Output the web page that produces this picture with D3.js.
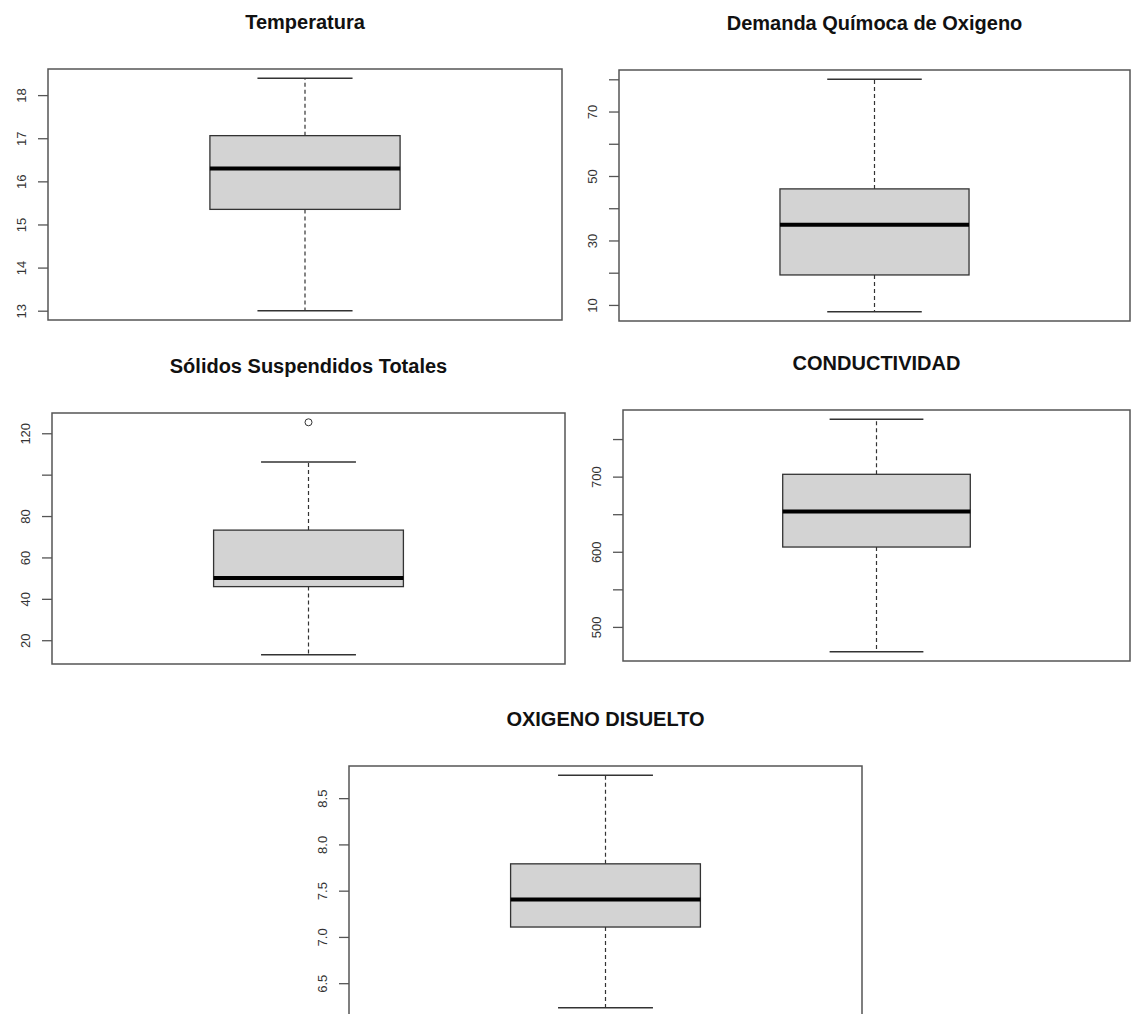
<!DOCTYPE html>
<html>
<head>
<meta charset="utf-8">
<script src="https://cdn.jsdelivr.net/npm/d3@7"></script>
<style>
  body { margin: 0; background: #fff; }
  svg { display: block; font-family: "Liberation Sans", Arial, sans-serif; }
</style>
</head>
<body>
<svg id="chart"></svg>
<script>
// values
var panelTitles = ["Temperatura", "Demanda Químoca de Oxigeno", "Sólidos Suspendidos Totales", "CONDUCTIVIDAD", "OXIGENO DISUELTO"];
var lowWhisker    = [13.0, 7.9, 13.0, 467, 6.235];
var lowerQuartile = [15.35, 19.3, 45.9, 606.3, 7.107];
var medianValues  = [16.30, 34.9, 50.1, 653.6, 7.405];
var upperQuartile = [17.06, 46.0, 73.2, 703.1, 7.79];
var highWhisker   = [18.39, 80.0, 106.1, 776.3, 8.747];
var outlierValues = [[], [], [125.3], [], []];
var tickValues = [
    [13, 14, 15, 16, 17, 18],
    [10, 20, 30, 40, 50, 60, 70, 80],
    [20, 40, 60, 80, 100, 120],
    [500, 550, 600, 650, 700, 750],
    [6.5, 7.0, 7.5, 8.0, 8.5]
];
var tickLabels = [
    ["13", "14", "15", "16", "17", "18"],
    ["10", "", "30", "", "50", "", "70", ""],
    ["20", "40", "60", "80", "", "120"],
    ["500", "", "600", "", "700", ""],
    ["6.5", "7.0", "7.5", "8.0", "8.5"]
];

var svgWidth = 1132;
var svgHeight = 1014;
var svg = d3.select('svg#chart')
    .attr("width", svgWidth)
    .attr("height", svgHeight);

// plot frames (left, right, top, bottom)
var frames = [
    [48, 562, 69, 320],
    [619, 1130, 70, 321],
    [52, 565, 413, 664],
    [623, 1130, 410, 661],
    [349, 862, 766, 1017]
];

function DrawBoxPlot(i) {
    var f = frames[i];
    var lo = lowWhisker[i], hi = highWhisker[i];
    outlierValues[i].forEach(function (v) { lo = Math.min(lo, v); hi = Math.max(hi, v); });
    var pad = (hi - lo) * 0.04;

    var y = d3.scaleLinear().domain([lo - pad, hi + pad]).range([f[3], f[2]]);
    var x = d3.scaleLinear().domain([0.5, 1.5]).range([f[0], f[1]]);
    var boxHalf = 0.185, capHalf = 0.0925;

    var g = svg.append('g').attr('class', 'panel');

    // title
    g.append('text')
        .attr('x', (f[0] + f[1]) / 2)
        .attr('y', f[2] - 40)
        .attr('text-anchor', 'middle')
        .attr('font-size', 20)
        .attr('font-weight', 'bold')
        .attr('fill', '#111')
        .text(panelTitles[i]);

    // whiskers (dashed)
    g.append('line')
        .attr('x1', x(1)).attr('x2', x(1))
        .attr('y1', y(upperQuartile[i])).attr('y2', y(highWhisker[i]))
        .attr('stroke', '#333').attr('stroke-width', 1.2).attr('stroke-dasharray', '4,3');
    g.append('line')
        .attr('x1', x(1)).attr('x2', x(1))
        .attr('y1', y(lowerQuartile[i])).attr('y2', y(lowWhisker[i]))
        .attr('stroke', '#333').attr('stroke-width', 1.2).attr('stroke-dasharray', '4,3');

    // staples
    [lowWhisker[i], highWhisker[i]].forEach(function (v) {
        g.append('line')
            .attr('x1', x(1 - capHalf)).attr('x2', x(1 + capHalf))
            .attr('y1', y(v)).attr('y2', y(v))
            .attr('stroke', '#333').attr('stroke-width', 1.4);
    });

    // box
    g.append('rect')
        .attr('x', x(1 - boxHalf))
        .attr('width', x(1 + boxHalf) - x(1 - boxHalf))
        .attr('y', y(upperQuartile[i]))
        .attr('height', y(lowerQuartile[i]) - y(upperQuartile[i]))
        .attr('fill', '#d3d3d3')
        .attr('stroke', '#333').attr('stroke-width', 1.3);

    // median
    g.append('line')
        .attr('x1', x(1 - boxHalf)).attr('x2', x(1 + boxHalf))
        .attr('y1', y(medianValues[i])).attr('y2', y(medianValues[i]))
        .attr('stroke', '#000').attr('stroke-width', 4);

    // outliers
    g.selectAll('circle.out')
        .data(outlierValues[i])
        .enter()
        .append('circle')
        .attr('class', 'out')
        .attr('cx', x(1))
        .attr('cy', function (d) { return y(d); })
        .attr('r', 3.5)
        .attr('fill', 'none')
        .attr('stroke', '#333').attr('stroke-width', 1);

    // frame
    g.append('rect')
        .attr('x', f[0]).attr('y', f[2])
        .attr('width', f[1] - f[0]).attr('height', f[3] - f[2])
        .attr('fill', 'none')
        .attr('stroke', '#555').attr('stroke-width', 1.5);

    // y axis
    var labels = tickLabels[i];
    var axis = g.append('g')
        .attr('transform', 'translate(' + f[0] + ',0)')
        .call(d3.axisLeft(y)
            .tickValues(tickValues[i])
            .tickSize(10)
            .tickFormat(function (d, k) { return labels[k]; }));
    axis.select('.domain').remove();
    axis.selectAll('.tick line').attr('stroke', '#555').attr('stroke-width', 1.3);
    axis.selectAll('.tick text')
        .attr('transform', 'rotate(-90)')
        .attr('x', 0)
        .attr('y', -22)
        .attr('dy', 0)
        .attr('text-anchor', 'middle')
        .attr('font-size', 13)
        .attr('font-family', '"Liberation Sans", Arial, sans-serif')
        .attr('fill', '#333');
}

for (var i = 0; i < panelTitles.length; i++) {
    DrawBoxPlot(i);
}
</script>
</body>
</html>
